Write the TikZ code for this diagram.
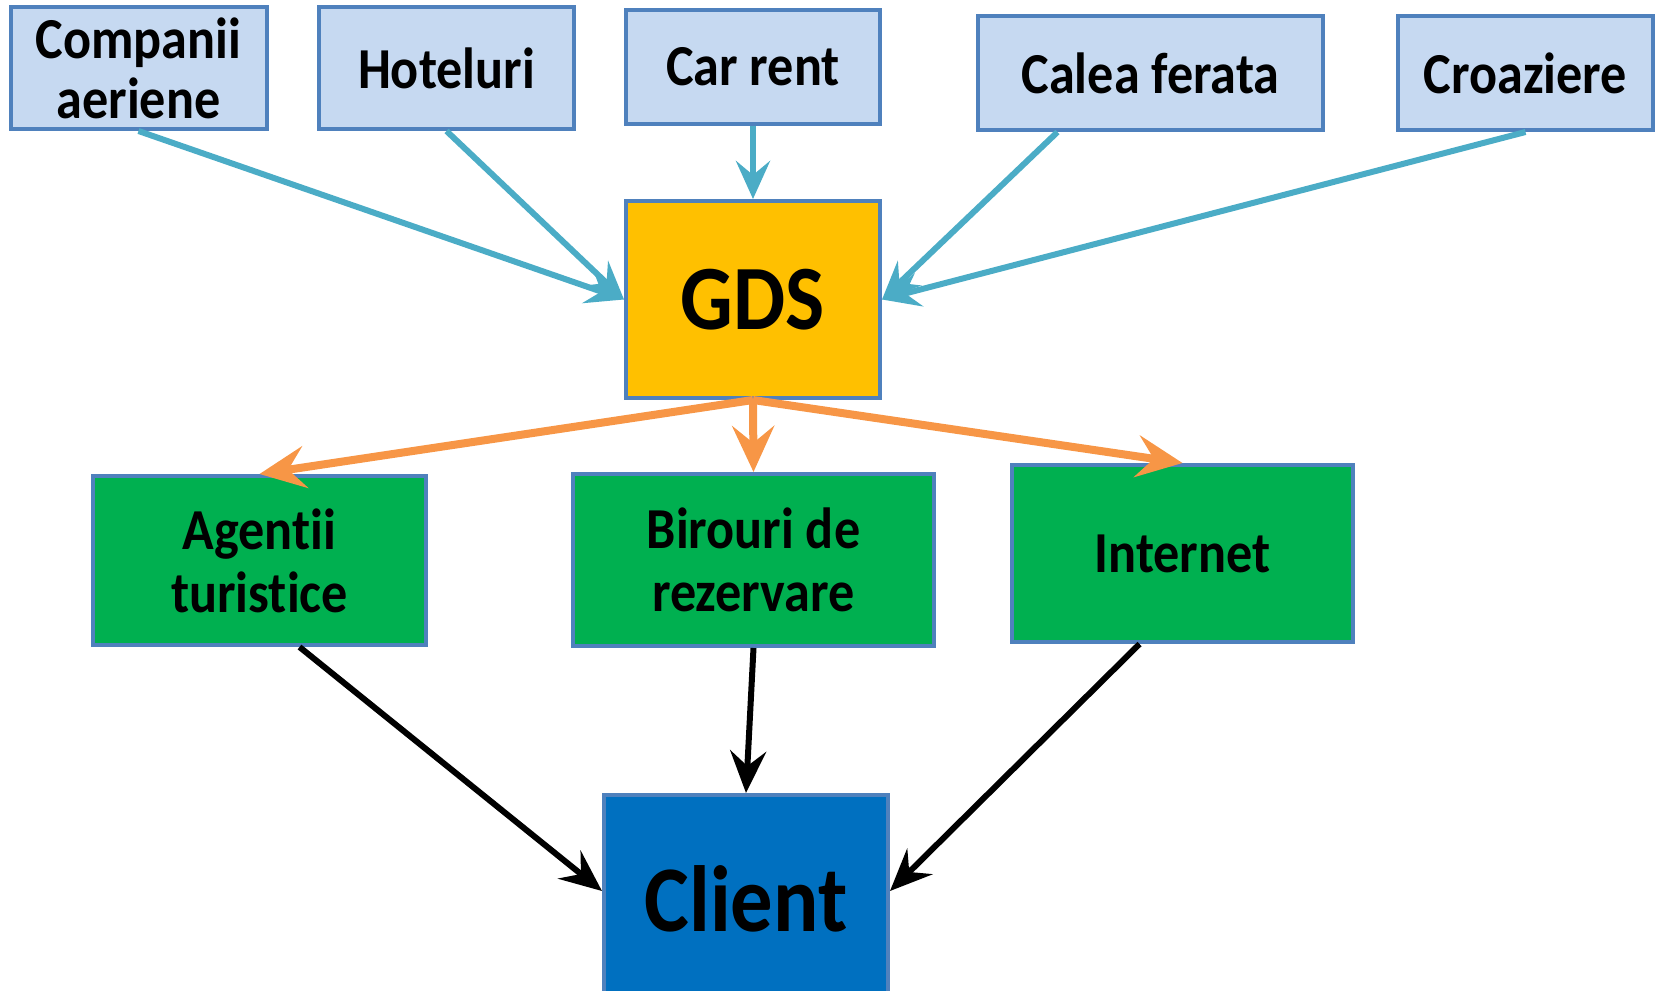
\documentclass[tikz,border=0pt]{standalone}
\usepackage{fontspec}
\setmainfont{Carlito}[FakeStretch=0.9, Ligatures={NoCommon}]
\usetikzlibrary{arrows.meta}
\definecolor{srcfill}{HTML}{C6D9F1}
\definecolor{boxline}{HTML}{4F81BD}
\definecolor{bluearr}{HTML}{4BACC6}
\definecolor{gdsfill}{HTML}{FFC000}
\definecolor{orangearr}{HTML}{F79646}
\definecolor{greenfill}{HTML}{00B050}
\definecolor{clientfill}{HTML}{0070C0}
\tikzset{
  basebox/.style={draw=boxline, line width=4pt, rectangle, inner sep=0pt, align=center, font=\bfseries},
  srcbox/.style={basebox, fill=srcfill, font=\fontsize{58}{60}\selectfont\bfseries},
  gdsbox/.style={basebox, fill=gdsfill, font=\fontsize{92}{92}\selectfont\bfseries},
  chanbox/.style={basebox, fill=greenfill, font=\fontsize{58}{63}\selectfont\bfseries},
  clientbox/.style={basebox, fill=clientfill, font=\fontsize{94}{94}\selectfont\bfseries},
  bluearrow/.style={draw=bluearr, line width=6pt, -{Stealth[length=38pt,width=34pt,inset=14pt]}},
  orangearrow/.style={draw=orangearr, line width=8pt, -{Stealth[length=46pt,width=42pt,inset=17pt]}},
  blackarrow/.style={draw=black, line width=6pt, -{Stealth[length=42pt,width=36pt,inset=15pt]}}
}
\begin{document}
\begin{tikzpicture}[x=1pt,y=-1pt]
\useasboundingbox (0,0) rectangle (1658,991);
\clip (0,0) rectangle (1658,991);
% sources
\node[srcbox, minimum width=256pt, minimum height=122pt] (comp) at (138.5,68) {Companii\\aeriene};
\node[srcbox, minimum width=255pt, minimum height=122pt] (hot) at (446.5,68) {Hoteluri};
\node[srcbox, minimum width=254pt, minimum height=114pt] (car) at (753,67) {Car rent};
\node[srcbox, minimum width=345pt, minimum height=114pt] (cal) at (1150.5,73) {Calea ferata};
\node[srcbox, minimum width=255pt, minimum height=114pt] (cro) at (1525.5,73) {Croaziere};
% GDS
\node[gdsbox, minimum width=254pt, minimum height=197pt] (gds) at (753,299.5) {GDS};
% channels
\node[chanbox, minimum width=333pt, minimum height=169pt] (age) at (259.5,560.5) {Agent\kern0pt ii\\turist\kern0pt ice};
\node[chanbox, minimum width=361pt, minimum height=172pt] (bir) at (753.5,560) {Birouri de\\rezervare};
\node[chanbox, minimum width=341pt, minimum height=177pt] (int) at (1182.5,553.5) {Internet};
% client
\node[clientbox, minimum width=284pt, minimum height=208pt] (cli) at (746,899) {Client};
% blue arrows
\draw[bluearrow] (comp.south) -- (gds.west);
\draw[bluearrow] (hot.south) -- (gds.west);
\draw[bluearrow] (car.south) -- (gds.north);
\draw[bluearrow] ([xshift=-93pt]cal.south) -- (gds.east);
\draw[bluearrow] (cro.south) -- (gds.east);
% orange arrows
\draw[orangearrow] (gds.south) -- (age.north);
\draw[orangearrow] (gds.south) -- (bir.north);
\draw[orangearrow] (gds.south) -- (int.north);
% black arrows
\draw[blackarrow] ([xshift=40pt]age.south) -- ([yshift=8pt]cli.west);
\draw[blackarrow] (bir.south) -- (cli.north);
\draw[blackarrow] ([xshift=-43pt]int.south) -- ([yshift=8pt]cli.east);
\end{tikzpicture}
\end{document}
